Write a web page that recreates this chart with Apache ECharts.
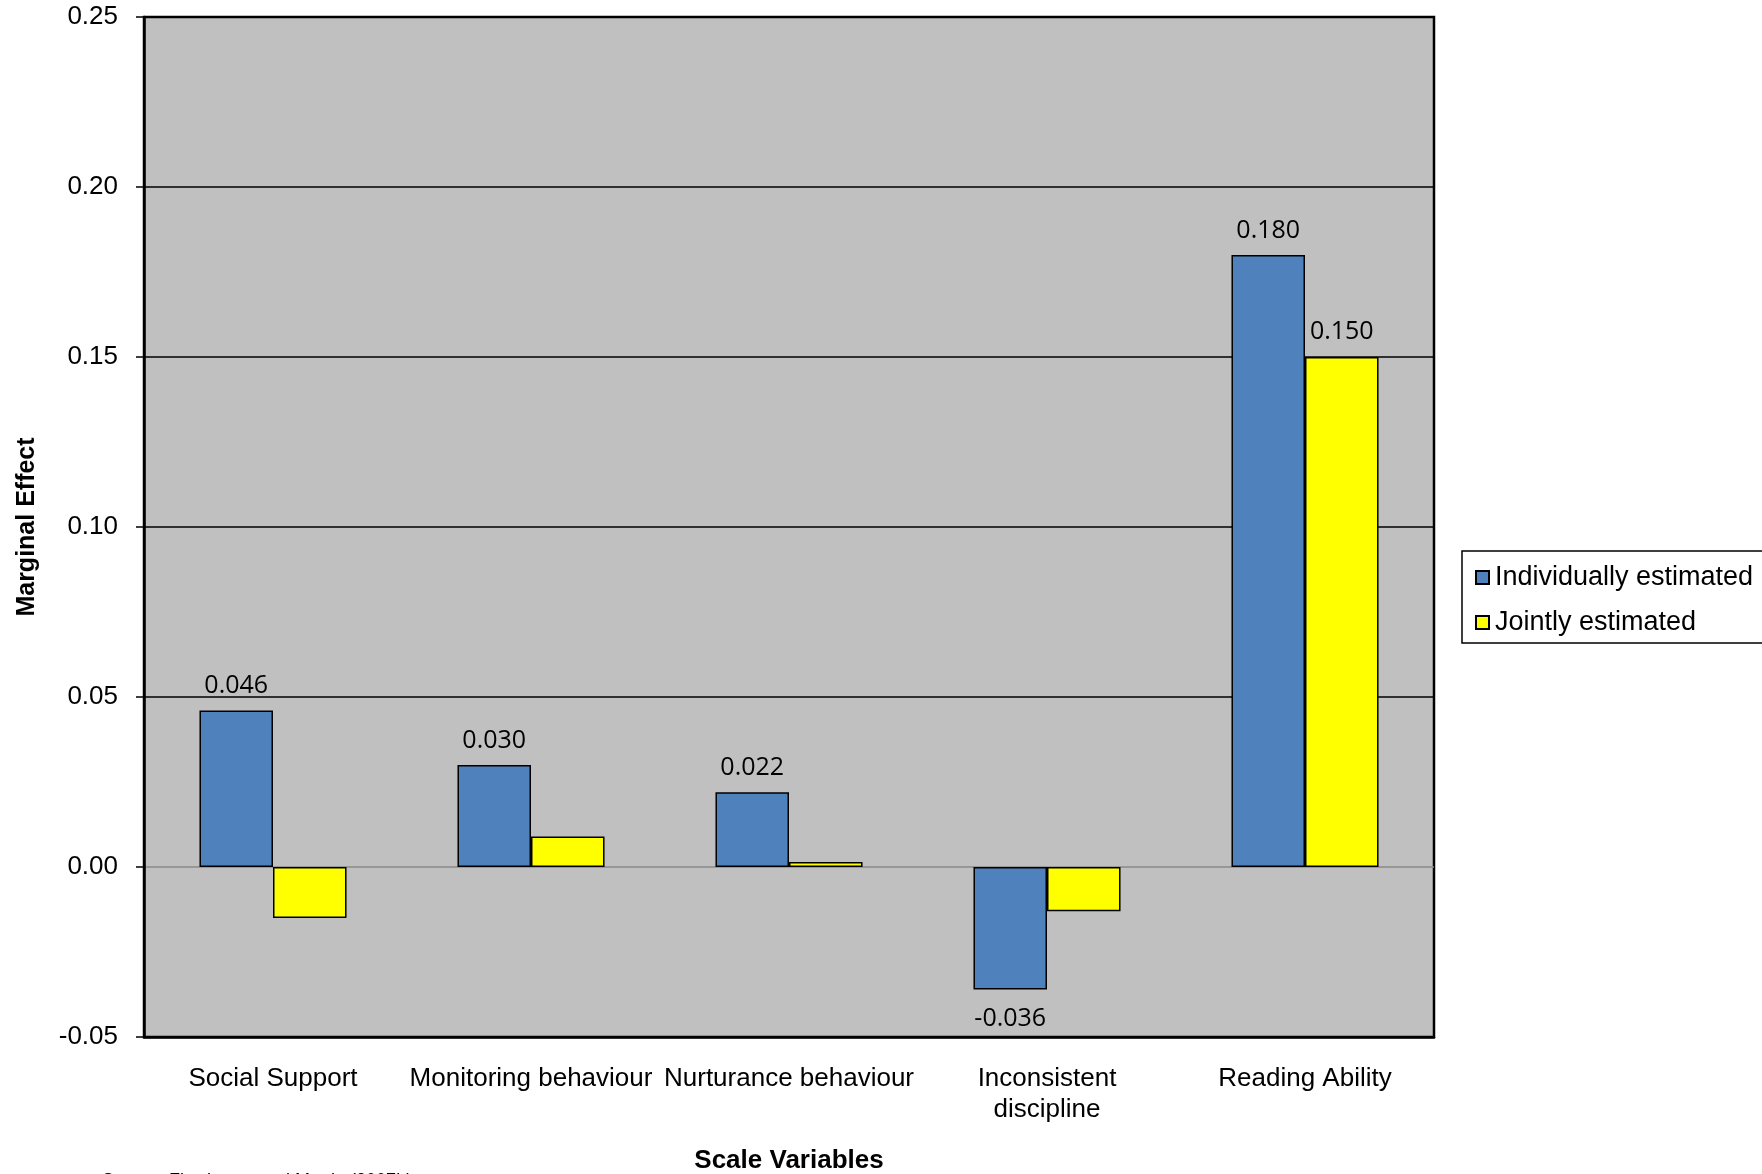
<!DOCTYPE html>
<html>
<head>
<meta charset="utf-8">
<script src="https://cdn.jsdelivr.net/npm/echarts@6/dist/echarts.min.js"></script>
<style>
  html, body { margin: 0; padding: 0; background: #fff; }
  #chart { width: 1762px; height: 1174px; }
</style>
</head>
<body>
<div id="chart"></div>
<script>
// Marginal effects of each scale variable, estimated one at a time and together
const categories = ['Social Support', 'Monitoring behaviour', 'Nurturance behaviour', 'Inconsistent\ndiscipline', 'Reading Ability'];
const individually = [0.046, 0.030, 0.022, -0.036, 0.180];
const jointly = [-0.015, 0.009, 0.0015, -0.013, 0.150];
// which jointly-estimated bars carry a value label
const jointlyLabelled = [false, false, false, false, true];
const seriesNames = ['Individually estimated', 'Jointly estimated'];
const yTicks = { min: -0.05, max: 0.25, step: 0.05 };

const AXIS_FONT = '"Liberation Sans", Arial, sans-serif';
const VALUE_FONT = '"Open Sans", "Liberation Sans", sans-serif';

const valueLabel = {
  show: true,
  position: 'top',
  distance: 12,
  color: '#000',
  fontFamily: VALUE_FONT,
  fontSize: 25,
  formatter: p => p.value.toFixed(3)
};

const individualData = individually.map(v => v < 0
  ? { value: v, label: { position: 'bottom', distance: 17 } }
  : { value: v });

const jointData = jointly.map((v, i) => ({
  value: v,
  label: { show: jointlyLabelled[i], distance: 13 }
}));

// grid lines: black everywhere except the grey zero line
const splitColors = [];
for (let v = yTicks.min, i = 0; v <= yTicks.max + 1e-9; v += yTicks.step, i++) {
  splitColors.push(Math.abs(v) < 1e-9 ? '#8a8a8a' : '#000');
}

const chart = echarts.init(document.getElementById('chart'), null, { renderer: 'canvas' });
chart.setOption({
  animation: false,
  backgroundColor: '#fff',
  grid: {
    left: 144, top: 17, right: 328, bottom: 137,
    outerBoundsMode: 'none',
    containLabel: false,
    show: true,
    backgroundColor: '#c0c0c0',
    borderColor: '#000',
    borderWidth: 2.5
  },
  legend: {
    orient: 'vertical',
    left: 1462,
    top: 551,
    padding: [13, 12, 7, 13],
    itemGap: 18,
    itemWidth: 13,
    itemHeight: 13,
    backgroundColor: '#fff',
    borderColor: '#000',
    borderWidth: 1.5,
    borderRadius: 0,
    icon: 'rect',
    textStyle: { fontFamily: AXIS_FONT, fontSize: 27, color: '#000', padding: [0, 0, 0, 1] },
    data: seriesNames
  },
  xAxis: {
    type: 'category',
    data: categories,
    name: 'Scale Variables',
    nameLocation: 'middle',
    nameGap: 111,
    nameTextStyle: { fontFamily: AXIS_FONT, fontSize: 26, fontWeight: 'bold', color: '#000' },
    axisLine: { onZero: false, lineStyle: { color: '#000', width: 2.5 } },
    axisTick: { show: false },
    axisLabel: {
      interval: 0,
      margin: 26,
      color: '#000',
      fontFamily: AXIS_FONT,
      fontSize: 26,
      lineHeight: 31
    },
    splitLine: { show: false }
  },
  yAxis: {
    type: 'value',
    min: yTicks.min,
    max: yTicks.max,
    interval: yTicks.step,
    name: 'Marginal Effect',
    nameLocation: 'middle',
    nameGap: 104,
    nameRotate: 90,
    nameTextStyle: { fontFamily: AXIS_FONT, fontSize: 25, fontWeight: 'bold', color: '#000' },
    axisLine: { show: true, lineStyle: { color: '#000', width: 2.5 } },
    axisTick: { show: true, inside: false, length: 8, lineStyle: { color: '#000', width: 1.5 } },
    axisLabel: {
      margin: 26,
      color: '#000',
      fontFamily: AXIS_FONT,
      fontSize: 26,
      formatter: v => v.toFixed(2)
    },
    splitLine: { show: true, lineStyle: { color: splitColors, width: 1.5 } }
  },
  series: [
    {
      name: seriesNames[0],
      type: 'bar',
      data: individualData,
      barGap: '0%',
      barCategoryGap: '43%',
      itemStyle: { color: '#4f81bd', borderColor: '#000', borderWidth: 1.5 },
      label: valueLabel
    },
    {
      name: seriesNames[1],
      type: 'bar',
      data: jointData,
      barGap: '0%',
      barCategoryGap: '43%',
      itemStyle: { color: '#ffff00', borderColor: '#000', borderWidth: 1.5 },
      label: Object.assign({}, valueLabel, { show: false })
    }
  ],
  graphic: [
    {
      type: 'text',
      left: 102,
      top: 1172,
      style: {
        text: 'Source: Fitzsimons and Martin (2007b)',
        fontFamily: AXIS_FONT,
        fontSize: 18,
        fill: '#000'
      }
    }
  ]
});
</script>
</body>
</html>
